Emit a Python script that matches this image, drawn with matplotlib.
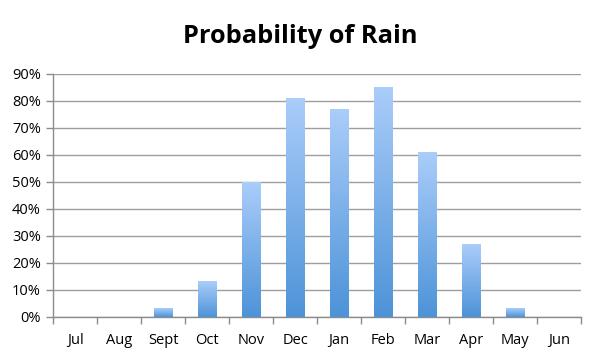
import matplotlib
matplotlib.use("Agg")
import matplotlib.pyplot as plt
import numpy as np
from matplotlib.colors import LinearSegmentedColormap
from matplotlib.ticker import PercentFormatter

# --- Dados ---
meses = ["Jul", "Aug", "Sept", "Oct", "Nov", "Dec", "Jan", "Feb", "Mar", "Apr", "May", "Jun"]
prob_chuva = [0, 0, 3, 13, 50, 81, 77, 85, 61, 27, 3, 0]
y_ticks = [0, 10, 20, 30, 40, 50, 60, 70, 80, 90]

plt.rcParams['font.family'] = ['Open Sans', 'DejaVu Sans']

fig = plt.figure(figsize=(6, 3.57), dpi=100)
ax = fig.add_axes([0.089, 0.113, 0.879, 0.68])

x = np.arange(len(meses))
barras = ax.bar(x, prob_chuva, width=0.41, color='none', edgecolor='none', zorder=3)

# gradiente vertical em cada barra (claro em cima, escuro embaixo)
cmap_grad = LinearSegmentedColormap.from_list('grad', ['#4d93d8', '#aacdfa'])
grad = np.linspace(0, 1, 256).reshape(-1, 1)
for b in barras:
    h = b.get_height()
    if h <= 0:
        continue
    x0 = b.get_x()
    ax.imshow(grad, cmap=cmap_grad, origin='lower', aspect='auto',
              extent=(x0, x0 + b.get_width(), 0, h), zorder=3)

ax.set_xlim(-0.5, len(meses) - 0.5)
ax.set_ylim(0, 90)
ax.set_yticks(y_ticks)
ax.yaxis.set_major_formatter(PercentFormatter(decimals=0))

# ticks do eixo x entre categorias, rótulos centrados
ax.set_xticks(np.arange(-0.5, len(meses), 1.0))
ax.set_xticklabels([])
ax.set_xticks(x, minor=True)
ax.set_xticklabels(meses, minor=True)
ax.tick_params(axis='x', which='major', length=5, color='#8c8c8c', width=1)
ax.tick_params(axis='x', which='minor', length=0, pad=12, labelsize=10.5)
ax.tick_params(axis='y', length=5, color='#8c8c8c', width=1, labelsize=10.5, pad=4)

ax.grid(axis='y', color='#9e9e9e', linewidth=1, zorder=0)
ax.set_axisbelow(True)
for lado in ['top', 'right']:
    ax.spines[lado].set_visible(False)
for lado in ['left', 'bottom']:
    ax.spines[lado].set_color('#8c8c8c')
    ax.spines[lado].set_linewidth(1)

fig.text(0.5, 0.899, 'Probability of Rain', ha='center', va='center',
         fontsize=18.3, fontweight='bold')

fig.savefig('out.png', dpi=100)
